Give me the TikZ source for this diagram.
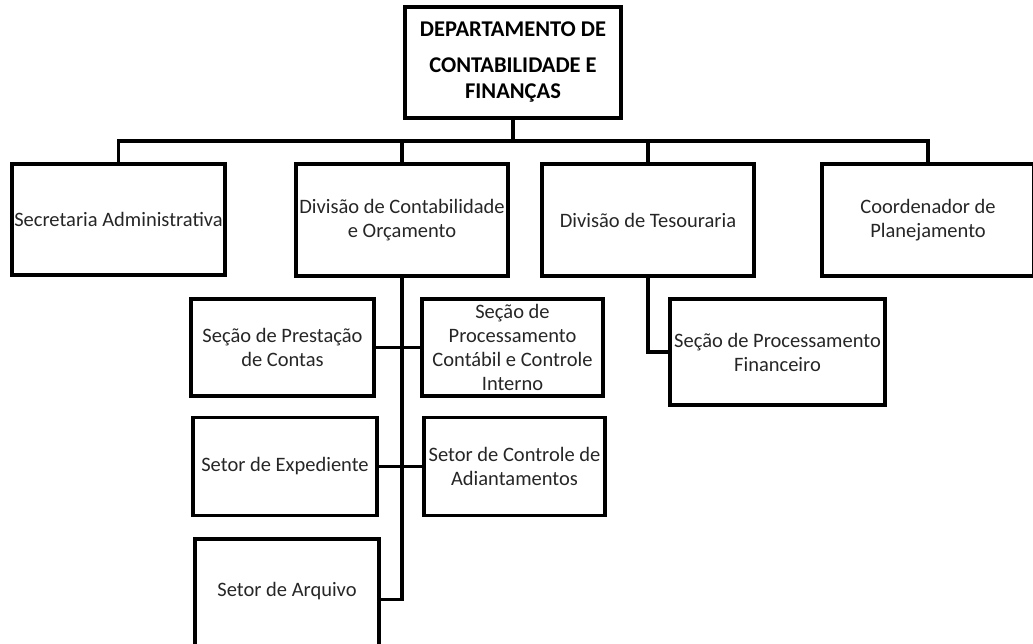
\documentclass[tikz,border=0pt]{standalone}
\usepackage{fontspec}
\setmainfont{Carlito}

\tikzset{
  unit/.style={draw, line width=3.5pt, inner sep=0pt, align=center,
    text=black!85, font=\fontsize{20.5}{24}\selectfont},
  head/.style={unit, text=black, font=\fontsize{22.5}{26}\selectfont\bfseries},
  link/.style={line width=3.5pt}
}

\begin{document}
\begin{tikzpicture}[x=1pt, y=-1pt]
    \useasboundingbox (0,0) rectangle (1033,643);
    \clip (0,0) rectangle (1033,643);

    \node[head, minimum width=216, minimum height=111] (dep) at (513,62.5)
      {DEPARTAMENTO DE\\[10pt]CONTABILIDADE E\\FINANÇAS};

    \node[unit, minimum width=213, minimum height=111] (sec) at (118.5,219.5)
      {Secretaria Administrativa};
    \node[unit, minimum width=212, minimum height=112] (dco) at (402,220)
      {Divisão de Contabilidade\\e Orçamento};
    \node[unit, minimum width=212, minimum height=112] (tes) at (648,220)
      {Divisão de Tesouraria};
    \node[unit, minimum width=212, minimum height=112] (coo) at (928,220)
      {Coordenador de\\Planejamento};

    \node[unit, minimum width=183, minimum height=97] (pre) at (282.5,347.5)
      {Seção de Prestação\\de Contas};
    \node[unit, minimum width=181, minimum height=97] (pci) at (512.5,347.5)
      {Seção de\\Processamento\\Contábil e Controle\\Interno};
    \node[unit, minimum width=184, minimum height=98] (exp) at (285,466.5)
      {Setor de Expediente};
    \node[unit, minimum width=181, minimum height=98] (adi) at (514.5,466.5)
      {Setor de Controle de\\Adiantamentos};
    \node[unit, minimum width=184, minimum height=121, text height=14pt, text depth=20pt]
      (arq) at (287,599.5) {Setor de Arquivo};

    \node[unit, minimum width=215, minimum height=106] (fin) at (777.5,352)
      {Seção de Processamento\\Financeiro};

    % ligacoes
    \coordinate (bus) at (513,141);
    \draw[link] (dep.south) -- (bus);
    \draw[link] (sec.north) |- (bus) -| (coo.north);
    \draw[link] (dco.north) -- (dco.north |- bus);
    \draw[link] (tes.north) -- (tes.north |- bus);

    \draw[link] (dco.south) |- (arq.east);
    \draw[link] (pre.east) -- (pci.west);
    \draw[link] (exp.east) -- (adi.west);
    \draw[link] (tes.south) |- (fin.west);
  \end{tikzpicture}
\end{document}
